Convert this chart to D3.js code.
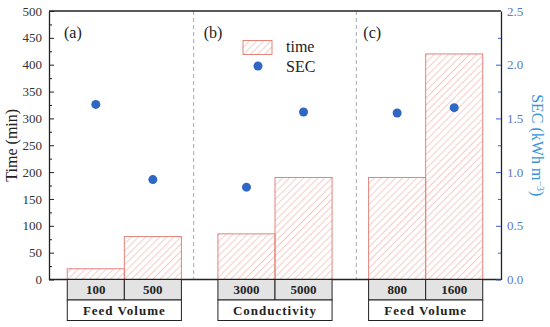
<!DOCTYPE html>
<html lang="en">
  <head>
    <meta charset="UTF-8" />
    <title>Time and SEC</title>
    <script src="https://d3js.org/d3.v7.min.js"></script>
    <style>
      body { margin: 0; background: #fff; }
      svg text { font-family: "Times New Roman", "Liberation Serif", serif; }
    </style>
  </head>

  <body>
    <svg width="550" height="327" font-family="Liberation Serif, serif"></svg>

    <script>
      // data
      const groups = ["(a)", "(b)", "(c)"];
      const groupNames = ["Feed Volume", "Conductivity", "Feed Volume"];
      const categories = [["100", "500"], ["3000", "5000"], ["800", "1600"]];
      const timeValues = [[20, 80], [85, 190], [190, 420]];
      const secValues = [[1.63, 0.93], [0.86, 1.56], [1.55, 1.60]];
      const leftTicks = d3.range(0, 501, 50);
      const rightTicks = [0, 0.5, 1.0, 1.5, 2.0, 2.5];

      const svg = d3.select("svg");
      const margin = { left: 49, right: 49, top: 11, bottom: 47.5 };
      const W = 550, H = 327;
      const x0 = margin.left, x1 = W - margin.right;
      const y0 = H - margin.bottom, y1 = margin.top;

      const xGroup = d3.scaleBand().domain(groups).range([x0, x1]);
      const xInner = d3.scaleBand().domain([0, 1])
        .range([0, xGroup.bandwidth()]).paddingOuter(0.32);
      const yTime = d3.scaleLinear().domain([0, 500]).range([y0, y1]);
      const ySec = d3.scaleLinear().domain([0, 2.5]).range([y0, y1]);

      const barColor = "#e3837a";
      const dotColor = "#2f67c4";
      const rightColor = "#3b5fc6";

      // hatch pattern
      const defs = svg.append("defs");
      const pat = defs.append("pattern")
        .attr("id", "hatch")
        .attr("patternUnits", "userSpaceOnUse")
        .attr("width", 5).attr("height", 5)
        .attr("patternTransform", "rotate(45)");
      pat.append("line")
        .attr("x1", 0).attr("y1", 0).attr("x2", 0).attr("y2", 5)
        .attr("stroke", "#ec9c94").attr("stroke-width", 1);

      // dashed separators between groups
      svg.append("g").selectAll("line")
        .data(groups.slice(1))
        .join("line")
        .attr("x1", (g, i) => xGroup(g) + (i === 0 ? -6 : 6))
        .attr("x2", (g, i) => xGroup(g) + (i === 0 ? -6 : 6))
        .attr("y1", y1).attr("y2", y0)
        .attr("stroke", "#aaa").attr("stroke-width", 1)
        .attr("stroke-dasharray", "4,3");

      // flatten bars
      const bars = [];
      groups.forEach(function (g, gi) {
        categories[gi].forEach(function (c, ci) {
          bars.push({
            g: g, gi: gi, ci: ci, cat: c,
            time: timeValues[gi][ci], sec: secValues[gi][ci],
            x: xGroup(g) + xInner(ci)
          });
        });
      });
      const bw = xInner.bandwidth();

      svg.append("g").selectAll("rect")
        .data(bars)
        .join("rect")
        .attr("x", (d) => d.x)
        .attr("y", (d) => yTime(d.time))
        .attr("width", bw)
        .attr("height", (d) => y0 - yTime(d.time))
        .attr("fill", "url(#hatch)")
        .attr("stroke", barColor)
        .attr("stroke-width", 1);

      svg.append("g").selectAll("circle")
        .data(bars)
        .join("circle")
        .attr("cx", (d) => d.x + bw / 2)
        .attr("cy", (d) => ySec(d.sec))
        .attr("r", 4.5)
        .attr("fill", dotColor);

      // frame: top and bottom lines
      svg.append("line").attr("x1", x0).attr("x2", x1)
        .attr("y1", y1).attr("y2", y1).attr("stroke", "#222").attr("stroke-width", 1.3);
      svg.append("line").attr("x1", x0).attr("x2", x1)
        .attr("y1", y0).attr("y2", y0).attr("stroke", "#222").attr("stroke-width", 1.3);

      // left axis, ticks pointing inward
      const leftAxis = svg.append("g").attr("transform", `translate(${x0},0)`);
      leftAxis.call(d3.axisRight(yTime).tickValues(d3.range(0, 501, 25))
        .tickSize(0).tickFormat(""));
      leftAxis.select(".domain").attr("stroke", "#222").attr("stroke-width", 1.3);
      leftAxis.selectAll(".tick line")
        .attr("x2", (d) => (d % 50 === 0 ? 5 : 3)).attr("stroke", "#222");
      svg.append("g").selectAll("text")
        .data(leftTicks)
        .join("text")
        .attr("x", x0 - 7)
        .attr("y", (d) => yTime(d))
        .attr("dy", "0.35em")
        .attr("text-anchor", "end")
        .attr("font-size", 13)
        .attr("fill", "#333")
        .text((d) => d);

      // right axis
      const rightAxis = svg.append("g").attr("transform", `translate(${x1},0)`);
      rightAxis.call(d3.axisLeft(ySec).tickValues(d3.range(0, 2.51, 0.25))
        .tickSize(0).tickFormat(""));
      rightAxis.select(".domain").attr("stroke", "#222").attr("stroke-width", 1.3);
      rightAxis.selectAll(".tick line")
        .attr("x2", (d, i) => (i % 2 === 0 ? -5 : -3)).attr("stroke", rightColor);
      svg.append("g").selectAll("text")
        .data(rightTicks)
        .join("text")
        .attr("x", x1 + 6)
        .attr("y", (d) => ySec(d))
        .attr("dy", "0.35em")
        .attr("font-size", 13)
        .attr("fill", "#5a78c8")
        .text((d) => d.toFixed(1));

      // axis titles
      svg.append("text")
        .attr("transform", `translate(17,${(y0 + y1) / 2}) rotate(-90)`)
        .attr("text-anchor", "middle")
        .attr("font-size", 16)
        .attr("fill", "#222")
        .text("Time (min)");
      const secTitle = svg.append("text")
        .attr("transform", `translate(532,${(y0 + y1) / 2}) rotate(90)`)
        .attr("text-anchor", "middle")
        .attr("font-size", 16)
        .attr("fill", "#3b94d6");
      secTitle.append("tspan").text("SEC (kWh m");
      secTitle.append("tspan").attr("dy", -5).attr("font-size", 10).text("\u22123");
      secTitle.append("tspan").attr("dy", 5).text(")");

      // panel labels
      svg.append("g").selectAll("text")
        .data(groups)
        .join("text")
        .attr("x", (g, i) => xGroup(g) + [15, 4, 13][i])
        .attr("y", 38)
        .attr("font-size", 16)
        .attr("fill", "#222")
        .text((g) => g);

      // category table under the axis
      const rowH = 20.5;
      const table = svg.append("g");
      table.selectAll("rect.cell")
        .data(bars)
        .join("rect")
        .attr("class", "cell")
        .attr("x", (d) => d.x)
        .attr("y", y0)
        .attr("width", bw)
        .attr("height", rowH)
        .attr("fill", "#e3e3e3")
        .attr("stroke", "#222");
      table.selectAll("text.cat")
        .data(bars)
        .join("text")
        .attr("class", "cat")
        .attr("x", (d) => d.x + bw / 2)
        .attr("y", y0 + rowH / 2)
        .attr("dy", "0.36em")
        .attr("text-anchor", "middle")
        .attr("font-size", 13)
        .attr("font-weight", "bold")
        .attr("fill", "#222")
        .text((d) => d.cat);
      table.selectAll("rect.grp")
        .data(groups)
        .join("rect")
        .attr("class", "grp")
        .attr("x", (g) => xGroup(g) + xInner(0))
        .attr("y", y0 + rowH)
        .attr("width", bw * 2)
        .attr("height", rowH)
        .attr("fill", "#fff")
        .attr("stroke", "#222");
      table.selectAll("text.grp")
        .data(groups)
        .join("text")
        .attr("class", "grp")
        .attr("x", (g) => xGroup(g) + xInner(0) + bw)
        .attr("y", y0 + rowH * 1.5)
        .attr("dy", "0.36em")
        .attr("text-anchor", "middle")
        .attr("font-size", 13)
        .attr("font-weight", "bold")
        .attr("letter-spacing", 1)
        .attr("fill", "#222")
        .text((g, i) => groupNames[i]);

      // legend
      const legend = svg.append("g");
      legend.append("rect")
        .attr("x", 243).attr("y", 40.5).attr("width", 29).attr("height", 14)
        .attr("fill", "url(#hatch)").attr("stroke", barColor);
      legend.append("text")
        .attr("x", 286).attr("y", 52).attr("font-size", 16).attr("fill", "#222")
        .text("time");
      legend.append("circle")
        .attr("cx", 258).attr("cy", 66).attr("r", 4.5).attr("fill", dotColor);
      legend.append("text")
        .attr("x", 286).attr("y", 72).attr("font-size", 16).attr("fill", "#222")
        .text("SEC");
    </script>
  </body>
</html>
